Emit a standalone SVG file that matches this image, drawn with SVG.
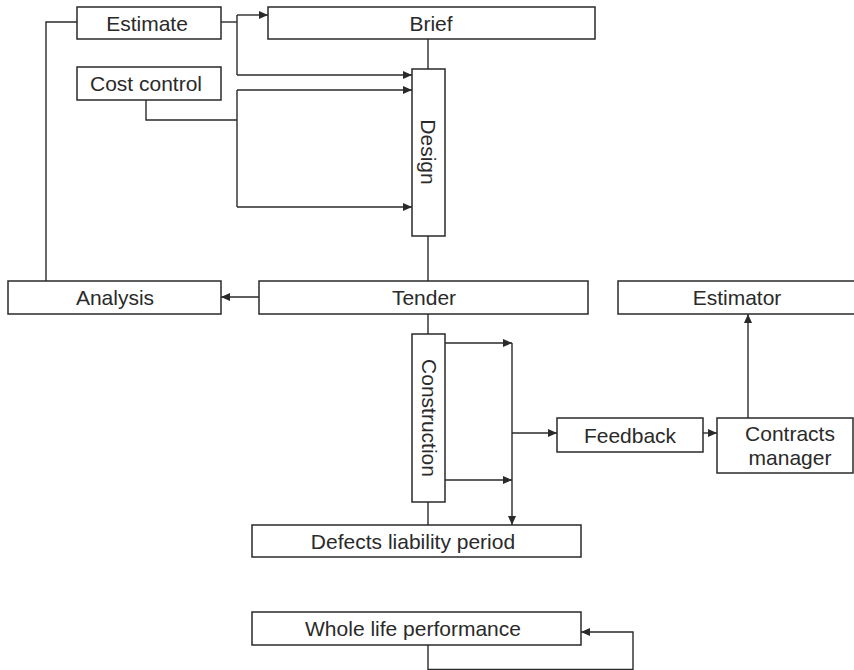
<svg xmlns="http://www.w3.org/2000/svg" width="854" height="670" viewBox="0 0 854 670">
<defs>
<style>
.box{fill:#fff;stroke:#2a2a2a;stroke-width:1.5}
.ln{fill:none;stroke:#2a2a2a;stroke-width:1.4}
.arr{marker-end:url(#ah)}
text{font-family:"Liberation Sans",Arial,sans-serif;font-size:21px;fill:#2a2a2a;text-anchor:middle}
</style>
<marker id="ah" markerUnits="userSpaceOnUse" markerWidth="9" markerHeight="8" refX="9" refY="4" orient="auto">
<path d="M0,0 L9,4 L0,8 z" fill="#2a2a2a"/>
</marker>
</defs>
<rect width="854" height="670" fill="#fff"/>
<g id="connectors">
<path class="ln" d="M77,22 H46 V281"/>
<path class="ln" d="M221,22 H237"/>
<path class="ln" d="M237,15 V75"/>
<path class="ln arr" d="M237,15 H268"/>
<path class="ln arr" d="M237,75 H412"/>
<path class="ln" d="M146,100 V120 H237"/>
<path class="ln" d="M237,90 V207"/>
<path class="ln arr" d="M237,90 H412"/>
<path class="ln arr" d="M237,207 H412"/>
<path class="ln" d="M428,39 V69"/>
<path class="ln" d="M428,236 V281"/>
<path class="ln arr" d="M259,297 H221"/>
<path class="ln" d="M428,314 V334"/>
<path class="ln" d="M428,502 V525"/>
<path class="ln arr" d="M445,343 H512"/>
<path class="ln arr" d="M445,480 H512"/>
<path class="ln arr" d="M512,343 V525"/>
<path class="ln arr" d="M512,433 H557"/>
<path class="ln arr" d="M703,433 H717"/>
<path class="ln arr" d="M748,418 V314"/>
<path class="ln arr" d="M428,645 V669.4 H633 V632 H581"/>
</g>
<g id="estimate"><rect class="box" x="77" y="7" width="144" height="32"/><text x="147" y="30.5">Estimate</text></g>
<g id="brief"><rect class="box" x="268" y="7" width="327" height="32"/><text x="431" y="30.5">Brief</text></g>
<g id="costcontrol"><rect class="box" x="77" y="67" width="144" height="33"/><text x="146" y="91">Cost control</text></g>
<g id="design"><rect class="box" x="412" y="69" width="33" height="167"/><text transform="translate(428,152) rotate(90)" x="0" y="7.5">Design</text></g>
<g id="analysis"><rect class="box" x="8" y="281" width="213" height="33"/><text x="115" y="305">Analysis</text></g>
<g id="tender"><rect class="box" x="259" y="281" width="329" height="33"/><text x="424" y="305">Tender</text></g>
<g id="estimator"><rect class="box" x="618" y="281" width="240" height="33"/><text x="737" y="305">Estimator</text></g>
<g id="construction"><rect class="box" x="412" y="334" width="33" height="168"/><text transform="translate(429,418) rotate(90)" x="0" y="7.5">Construction</text></g>
<g id="feedback"><rect class="box" x="557" y="418" width="146" height="34"/><text x="630" y="442.5">Feedback</text></g>
<g id="contractsmanager"><rect class="box" x="717" y="418" width="136" height="55"/><text x="790" y="441">Contracts</text><text x="790" y="465">manager</text></g>
<g id="defects"><rect class="box" x="252" y="525" width="329" height="32"/><text x="413" y="548.5">Defects liability period</text></g>
<g id="wholelife"><rect class="box" x="252" y="612" width="329" height="33"/><text x="413" y="636">Whole life performance</text></g>
</svg>
